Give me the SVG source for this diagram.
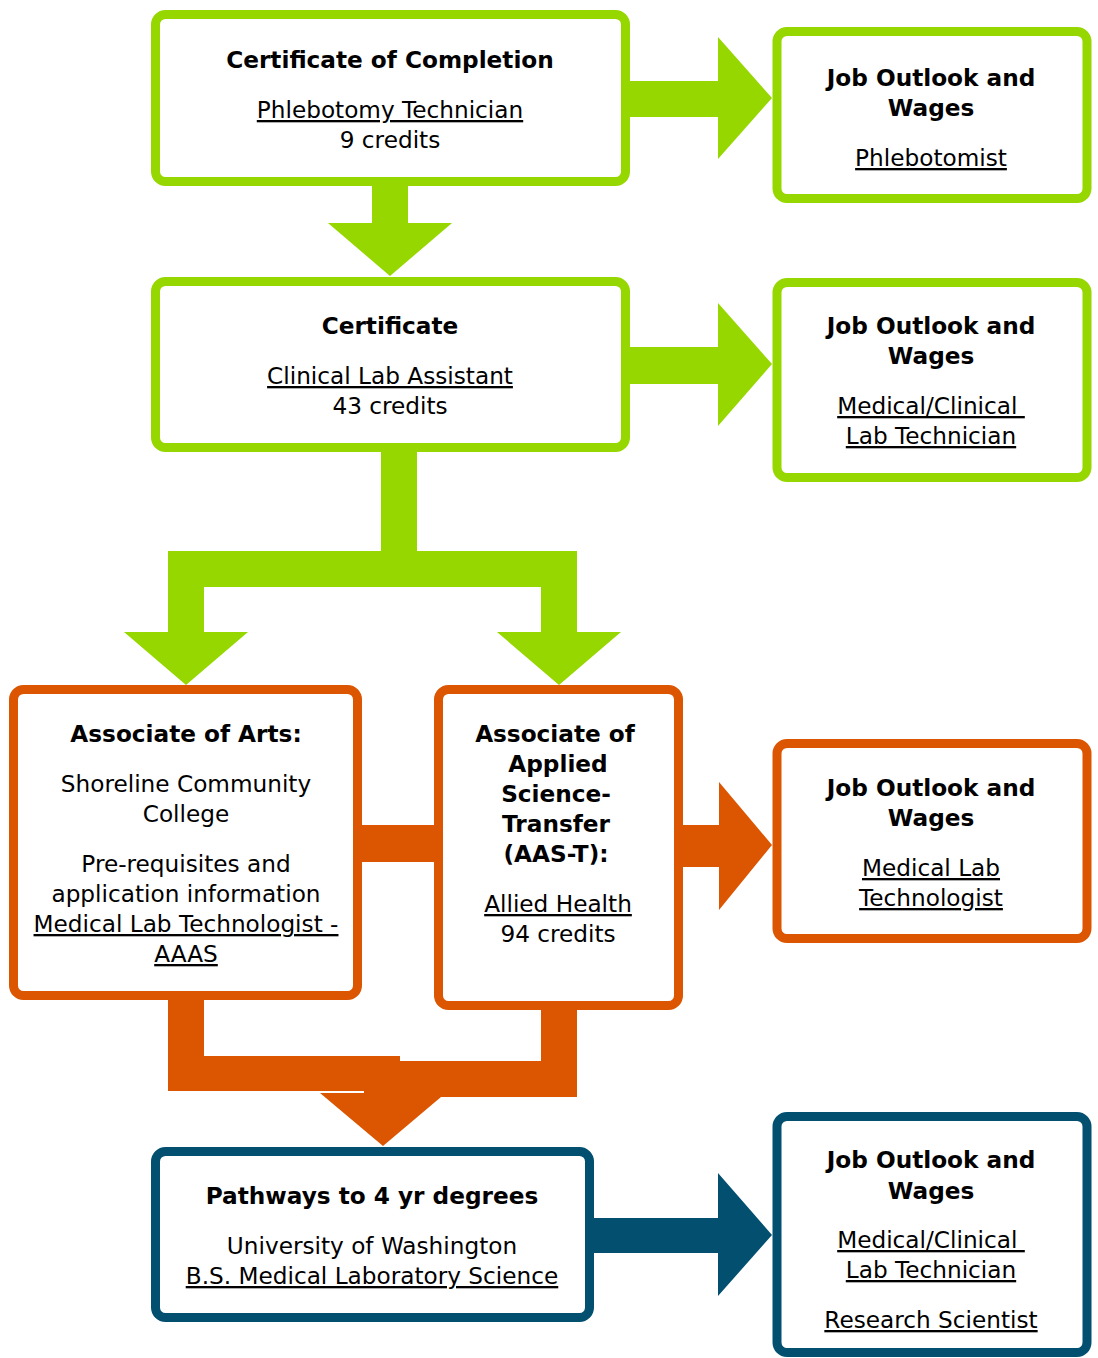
<svg xmlns="http://www.w3.org/2000/svg" width="1098" height="1358" viewBox="0 0 1098 1358">
<style>
text{font-family:"DejaVu Sans","Liberation Sans",sans-serif;font-size:23.2px;fill:#000;text-anchor:middle}
.b{font-weight:bold}
.u{text-decoration:underline}
.p{white-space:pre}
.box{fill:#fff;stroke-width:9}
.g{stroke:#96d700}.o{stroke:#dc5500}.n{stroke:#034f70}
.fg{fill:#96d700}.fo{fill:#dc5500}.fn{fill:#034f70}
</style>
<rect width="1098" height="1358" fill="#fff"/>
<g id="connectors">
  <polygon class="fg" points="626,81 718,81 718,37 772,98 718,159 718,117 626,117"/>
  <polygon class="fg" points="372,182 408,182 408,223 452,223 390,276 328,223 372,223"/>
  <polygon class="fg" points="626,347 718,347 718,303 772,364 718,426 718,384 626,384"/>
  <polygon class="fg" points="381,448 417,448 417,551 577,551 577,632 621,632 559,685 497,632 541,632 541,587 204,587 204,632 248,632 186,685 124,632 168,632 168,551 381,551"/>
  <rect class="fo" x="358" y="825" width="80" height="37"/>
  <polygon class="fo" points="679,825 719,825 719,782 772,845 719,910 719,867 679,867"/>
  <polygon class="fo" points="168,996 204,996 204,1056 400,1056 400,1061 541,1061 541,1006 577,1006 577,1097 441,1097 383,1146 320,1093 364,1093 364,1091 168,1091"/>
  <polygon class="fn" points="590,1218 718,1218 718,1173 772,1235 718,1296 718,1253 590,1253"/>
</g>
<g id="cert-completion">
  <rect class="box g" x="155.5" y="14.5" width="470" height="167" rx="10"/>
  <text class="b" x="390" y="68">Certificate of Completion</text>
  <text class="u" x="390" y="118">Phlebotomy Technician</text>
  <text x="390" y="148">9 credits</text>
</g>
<g id="job-phlebotomist">
  <rect class="box g" x="777" y="31.5" width="310" height="167" rx="10"/>
  <text class="b" x="931" y="86">Job Outlook and</text>
  <text class="b" x="931" y="116">Wages</text>
  <text class="u" x="931" y="166">Phlebotomist</text>
</g>
<g id="certificate">
  <rect class="box g" x="155.5" y="281.5" width="470" height="166" rx="10"/>
  <text class="b" x="390" y="334">Certificate</text>
  <text class="u" x="390" y="384">Clinical Lab Assistant</text>
  <text x="390" y="414">43 credits</text>
</g>
<g id="job-mlt">
  <rect class="box g" x="777" y="282.5" width="310" height="195" rx="10"/>
  <text class="b" x="931" y="334">Job Outlook and</text>
  <text class="b" x="931" y="364">Wages</text>
  <text class="u p" x="931" y="414">Medical/Clinical </text>
  <text class="u" x="931" y="444">Lab Technician</text>
</g>
<g id="assoc-arts">
  <rect class="box o" x="13.5" y="689.5" width="344" height="306" rx="10"/>
  <text class="b" x="186" y="742">Associate of Arts:</text>
  <text x="186" y="792">Shoreline Community</text>
  <text x="186" y="822">College</text>
  <text x="186" y="872">Pre-requisites and</text>
  <text x="186" y="902">application information</text>
  <text class="u" x="186" y="932">Medical Lab Technologist -</text>
  <text class="u" x="186" y="962">AAAS</text>
</g>
<g id="aas-t">
  <rect class="box o" x="438.5" y="689.5" width="240" height="316" rx="10"/>
  <text class="b" x="555" y="742">Associate of</text>
  <text class="b" x="558" y="772">Applied</text>
  <text class="b" x="556" y="802">Science-</text>
  <text class="b" x="556" y="832">Transfer</text>
  <text class="b" x="556" y="862">(AAS-T):</text>
  <text class="u" x="558" y="912">Allied Health</text>
  <text x="558" y="942">94 credits</text>
</g>
<g id="job-mls">
  <rect class="box o" x="777" y="743.5" width="310" height="195" rx="10"/>
  <text class="b" x="931" y="796">Job Outlook and</text>
  <text class="b" x="931" y="826">Wages</text>
  <text class="u" x="931" y="876">Medical Lab</text>
  <text class="u" x="931" y="906">Technologist</text>
</g>
<g id="pathways">
  <rect class="box n" x="155.5" y="1151.5" width="434" height="166" rx="10"/>
  <text class="b" x="372" y="1204">Pathways to 4 yr degrees</text>
  <text x="372" y="1254">University of Washington</text>
  <text class="u" x="372" y="1284">B.S. Medical Laboratory Science</text>
</g>
<g id="job-research">
  <rect class="box n" x="777" y="1116.5" width="310" height="236" rx="10"/>
  <text class="b" x="931" y="1168">Job Outlook and</text>
  <text class="b" x="931" y="1199">Wages</text>
  <text class="u p" x="931" y="1248">Medical/Clinical </text>
  <text class="u" x="931" y="1278">Lab Technician</text>
  <text class="u" x="931" y="1328">Research Scientist</text>
</g>
</svg>
